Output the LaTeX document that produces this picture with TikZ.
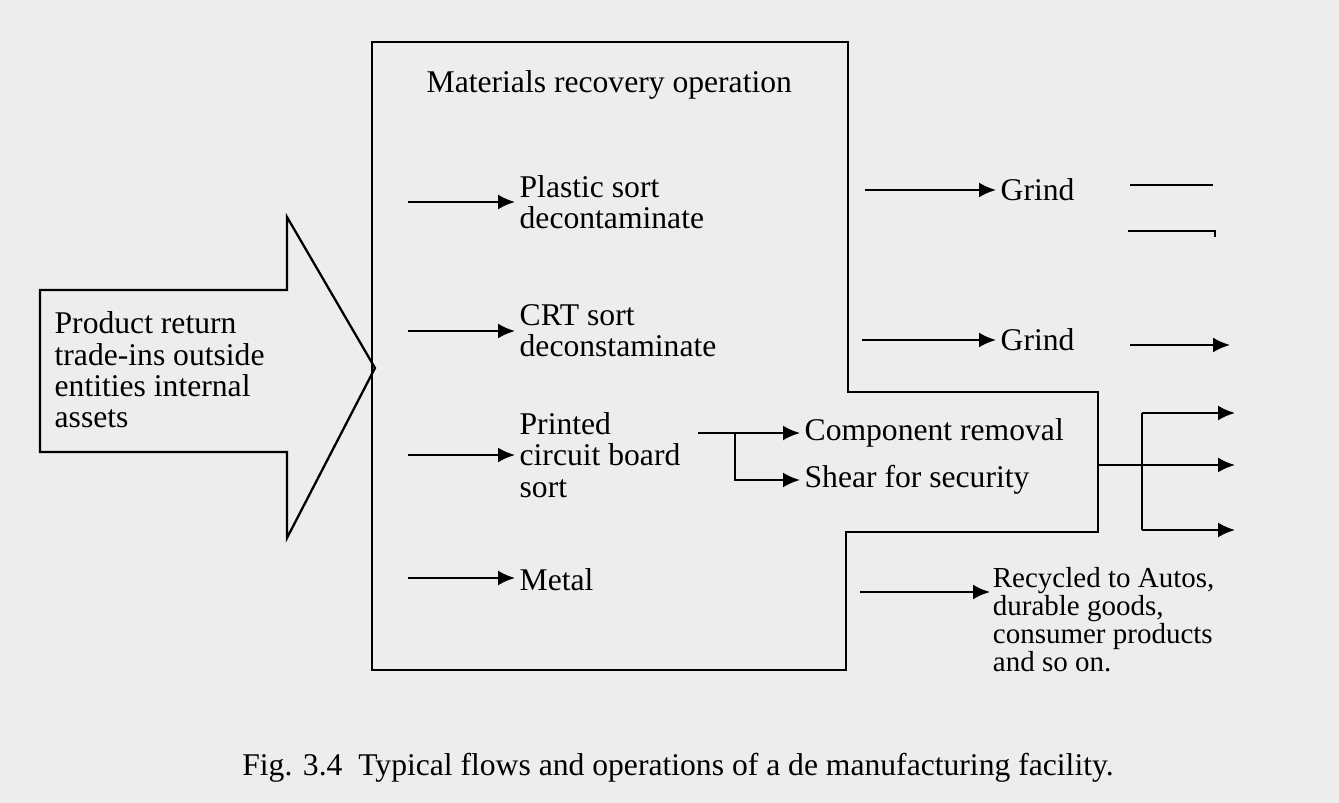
\documentclass[tikz,border=0pt]{standalone}
\usepackage{fontspec}
\setmainfont{Liberation Serif}
\usetikzlibrary{arrows.meta,positioning}

\begin{document}
\begin{tikzpicture}[
    x=0.02cm, y=-0.02cm,
    line width=1.3pt,
    txt/.style={font=\fontsize{18}{17.8}\selectfont, align=left, inner sep=2pt},
    smalltxt/.style={font=\fontsize{16.5}{14.8}\selectfont, align=left, inner sep=1pt},
    arrow/.style={-{Latex[length=3.4mm,width=3mm]}},
]
\useasboundingbox[fill=black!7] (0,0) rectangle (1339,803);

% Incoming block arrow
\draw (40,290) -- (287,290) -- (287,217) -- (375,368) -- (287,538) -- (287,452) -- (40,452) -- cycle;
\node[txt, anchor=west] (source) at (50,370) {Product return\\trade-ins outside\\entities internal\\assets};

% Materials recovery box
\draw (372,42) -- (848,42) -- (848,392) -- (1098,392) -- (1098,532) -- (846,532) -- (846,670) -- (372,670) -- cycle;
\node[txt, anchor=west] (title) at (422,85) {Materials recovery operation};

% Sort operations
\node[txt, anchor=west] (plastic) at (515,202) {Plastic sort\\decontaminate};
\node[txt, anchor=west] (crt) at (515,331) {CRT sort\\deconstaminate};
\node[txt, anchor=west] (board) at (515,455) {Printed\\circuit board\\sort};
\node[txt, anchor=west] (metal) at (515,580) {Metal};

\coordinate (inPlastic) at (408,202);
\coordinate (inCrt) at (408,331);
\coordinate (inBoard) at (408,455);
\coordinate (inMetal) at (408,578);
\draw[arrow] (inPlastic) -- (plastic.west);
\draw[arrow] (inCrt) -- (crt.west);
\draw[arrow] (inBoard) -- (board.west);
\draw[arrow] (inMetal) -- (inMetal -| metal.west);

% Board branch
\node[txt, anchor=west] (comp) at (800,433) {Component removal};
\node[txt, anchor=west] (shear) at (800,480) {Shear for security};
\coordinate (boardOut) at (698,433);
\coordinate (split) at (735,433);
\draw[arrow] (boardOut) -- (comp.west);
\draw[arrow] (split) |- (shear.west);

% Grind outputs
\node[txt, anchor=west] (grindA) at (996,190) {Grind};
\node[txt, anchor=west] (grindB) at (996,340) {Grind};
\coordinate (outPlastic) at (865,190);
\coordinate (outCrt) at (862,340);
\draw[arrow] (outPlastic) -- (grindA.west);
\draw[arrow] (outCrt) -- (grindB.west);

% Right edge flows
\coordinate (cutA) at (1130,185);
\coordinate (cutAend) at (1213,185);
\coordinate (cutB) at (1128,231);
\coordinate (cutBend) at (1215,231);
\coordinate (cutC) at (1130,345);
\coordinate (cutCend) at (1230,345);
\draw (cutA) -- (cutAend);
\draw (cutB) -- (cutBend) -- ++(0,6);
\draw[arrow] (cutC) -- (cutCend);

% Fan-out from box
\coordinate (boxRight) at (1098,465);
\coordinate (fanTop) at (1142,413);
\coordinate (fanBot) at (1142,530);
\coordinate (endTop) at (1235,413);
\coordinate (endMid) at (1235,465);
\coordinate (endBot) at (1235,530);
\draw[arrow] (boxRight) -- (endMid);
\draw[arrow] (fanTop) -- (endTop);
\draw[arrow] (fanBot) -- (endBot);
\draw (fanTop) -- (fanBot);

% Metal output
\node[smalltxt, anchor=north west] (recycled) at (990,564) {Recycled to Autos,\\durable goods,\\consumer products\\and so on.};
\coordinate (outMetal) at (860,592);
\draw[arrow] (outMetal) -- (outMetal -| recycled.west);

% Caption
\node[txt] (caption) at (678,768) {Fig. 3.4\enspace Typical flows and operations of a de manufacturing facility.};
\end{tikzpicture}
\end{document}
